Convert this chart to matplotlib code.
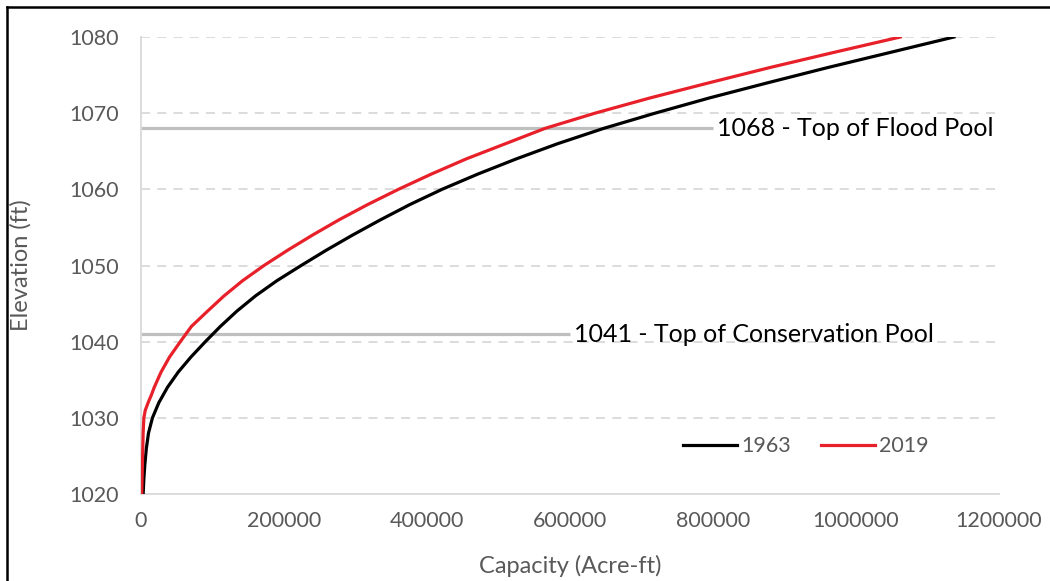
import matplotlib
matplotlib.use("Agg")
import matplotlib.pyplot as plt
from matplotlib.lines import Line2D
from matplotlib.ticker import FuncFormatter

# elevation (ft) vs storage capacity (acre-ft)
elev_1963 = [1020, 1022, 1024, 1026, 1028, 1030, 1032, 1034, 1036, 1038, 1040,
             1042, 1044, 1046, 1048, 1050, 1052, 1054, 1056, 1058, 1060,
             1062, 1064, 1066, 1068, 1070, 1072, 1074, 1076, 1078, 1080]
cap_1963 = [3000, 4000, 5500, 7500, 10500, 16000, 25000, 37000, 52000, 70000, 90000,
            111000, 134000, 160000, 190000, 224000, 259000, 296000, 335000, 376000, 421000,
            471000, 525000, 583000, 647000, 719000, 795000, 877000, 961000, 1049000, 1137000]

elev_2019 = [1020, 1022, 1024, 1026, 1028, 1030, 1031, 1032, 1033, 1034, 1036, 1038, 1040,
             1042, 1044, 1046, 1048, 1050, 1052, 1054, 1056, 1058, 1060,
             1062, 1064, 1066, 1068, 1070, 1072, 1074, 1076, 1078, 1080]
cap_2019 = [1000, 1500, 2000, 2500, 3000, 4000, 6000, 10000, 14500, 18500, 28000, 40000, 55000,
            70500, 93000, 116000, 142000, 172000, 205000, 240000, 277000, 317000, 360000,
            406000, 455000, 510000, 565000, 635000, 712000, 795000, 880000, 970000, 1062000]

# reference pool levels: (elevation, line end capacity, label)
pools = [(1068, 800000, "1068 - Top of Flood Pool"),
         (1041, 600000, "1041 - Top of Conservation Pool")]

x_ticks = [0, 200000, 400000, 600000, 800000, 1000000, 1200000]
y_ticks = [1020, 1030, 1040, 1050, 1060, 1070, 1080]

plt.rcParams["font.family"] = ["Lato", "DejaVu Sans"]
grey_txt = "#595959"
grid_col = "#D9D9D9"

fig = plt.figure(figsize=(10.5, 5.81), dpi=100)
ax = fig.add_axes([141 / 1050, 1 - 494 / 581, 858 / 1050, 457 / 581])

for y in y_ticks[1:]:
    ax.axhline(y, color=grid_col, lw=1.3, ls=(0, (5, 4)), zorder=0)

for elev, xend, label in pools:
    ax.plot([0, xend], [elev, elev], color="#BFBFBF", lw=2.3, zorder=1,
            solid_capstyle="butt")
    ax.text(xend + 5000, elev, label, fontsize=18, color="black",
            va="center", ha="left")

ax.plot(cap_1963, elev_1963, color="black", lw=2.3, label="1963", zorder=3)
ax.plot(cap_2019, elev_2019, color="#E8202A", lw=2.3, label="2019", zorder=3)

ax.set_xlim(0, 1200000)
ax.set_ylim(1020, 1080)
ax.set_xticks(x_ticks)
ax.set_yticks(y_ticks)
ax.xaxis.set_major_formatter(FuncFormatter(lambda v, p: f"{int(v)}"))
ax.tick_params(length=0, labelsize=15.5, labelcolor=grey_txt)
ax.tick_params(axis="y", pad=16)
ax.tick_params(axis="x", pad=12)

for side in ("top", "right"):
    ax.spines[side].set_visible(False)
for side in ("left", "bottom"):
    ax.spines[side].set_color(grid_col)
    ax.spines[side].set_linewidth(1.3)

ax.set_xlabel("Capacity (Acre-ft)", fontsize=17, color=grey_txt, labelpad=17.5)
ax.set_ylabel("Elevation (ft)", fontsize=17, color=grey_txt, labelpad=27)

ax.legend(loc="lower right", bbox_to_anchor=(0.9405, 0.04), ncol=2, frameon=False,
          fontsize=15.5, labelcolor=grey_txt, handlelength=2.5, handletextpad=0.2,
          columnspacing=1.38)

# outer frame (left and top edges visible in the reference)
fig.add_artist(Line2D([7 / 1050, 7 / 1050], [0, 1 - 7 / 581], color="black", lw=1.8))
fig.add_artist(Line2D([7 / 1050, 1], [1 - 7 / 581, 1 - 7 / 581], color="black", lw=1.8))

fig.savefig("out.png", dpi=100)
